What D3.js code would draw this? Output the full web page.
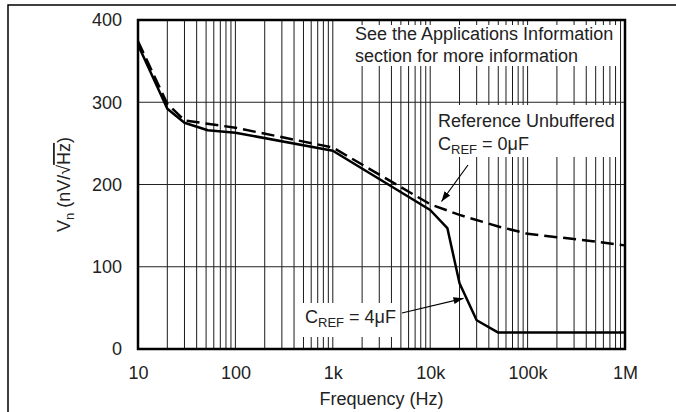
<!doctype html>
<html lang="en">
<head>
<meta charset="utf-8">
<title>Vn vs Frequency</title>
<script src="https://cdn.jsdelivr.net/npm/d3@7/dist/d3.min.js"></script>
<style>
  body { margin: 0; background: #fff; }
  svg { display: block; font-family: "Liberation Sans", Arial, Helvetica, sans-serif; }
  text { fill: #222; }
</style>
</head>
<body>
<svg id="chart" width="676" height="412"></svg>
<script>
// values
const freqTicks = [10, 100, 1e3, 1e4, 1e5, 1e6];
const freqLabels = ["10", "100", "1k", "10k", "100k", "1M"];
const vnTicks = [0, 100, 200, 300, 400];

// dashed: reference unbuffered, CREF = 0uF
const unbufFreq = [10, 20, 30, 100, 1000, 10000, 20000, 50000, 100000, 200000, 400000, 1000000];
const unbufVn   = [374, 298, 278, 269, 245, 176, 163, 149, 140, 136, 132, 126];
// solid: CREF = 4uF
const cref4Freq = [10, 20, 30, 52, 100, 1000, 10000, 15000, 20000, 30000, 50000, 1000000];
const cref4Vn   = [370, 292, 275, 266, 263, 241, 169, 147, 80, 35, 20, 20];

const svg = d3.select("#chart");
const m = {left: 138, top: 20, right: 51, bottom: 63};
const W = 676 - m.left - m.right, H = 412 - m.top - m.bottom;

// outer frame (runs off the picture at right and bottom)
svg.append("path")
  .attr("d", "M8,412 V5 H676")
  .attr("fill", "none").attr("stroke", "#000").attr("stroke-width", 1.5);

const x = d3.scaleLog().domain([10, 1e6]).range([0, W]);
const y = d3.scaleLinear().domain([0, 400]).range([H, 0]);

const g = svg.append("g").attr("transform", `translate(${m.left},${m.top})`);

// grid
g.append("g").selectAll("line").data(x.ticks())
  .enter().append("line")
    .attr("x1", d => x(d)).attr("x2", d => x(d))
    .attr("y1", 0).attr("y2", H)
    .attr("stroke", "#000").attr("stroke-width", 0.9);
g.append("g").selectAll("line").data(vnTicks.slice(1, -1))
  .enter().append("line")
    .attr("x1", 0).attr("x2", W)
    .attr("y1", d => y(d)).attr("y2", d => y(d))
    .attr("stroke", "#222").attr("stroke-width", 1);

// white boxes behind annotations
const boxes = [[214, 5, 268, 41], [297, 85, 185, 52], [162, 283, 100, 34]];
g.selectAll("rect.box").data(boxes).enter().append("rect")
  .attr("class", "box")
  .attr("x", d => d[0]).attr("y", d => d[1]).attr("width", d => d[2]).attr("height", d => d[3])
  .attr("fill", "#fff");

// curves
const line = d3.line().x(d => x(d[0])).y(d => y(d[1]));
g.append("path")
  .datum(unbufFreq.map((f, i) => [f, unbufVn[i]]))
  .attr("d", line).attr("fill", "none")
  .attr("stroke", "#000").attr("stroke-width", 2.5)
  .attr("stroke-dasharray", "13,6");
g.append("path")
  .datum(cref4Freq.map((f, i) => [f, cref4Vn[i]]))
  .attr("d", line).attr("fill", "none")
  .attr("stroke", "#000").attr("stroke-width", 2.5)
  .attr("stroke-linejoin", "round");

// plot frame
g.append("rect").attr("width", W).attr("height", H)
  .attr("fill", "none").attr("stroke", "#000").attr("stroke-width", 2.5);

// axes
const xAxis = g.append("g").attr("transform", `translate(0,${H})`)
  .call(d3.axisBottom(x).tickValues(freqTicks).tickFormat((d, i) => freqLabels[i]).tickSize(0).tickPadding(17));
const yAxis = g.append("g")
  .call(d3.axisLeft(y).tickValues(vnTicks).tickSize(0).tickPadding(16));
[xAxis, yAxis].forEach(a => {
  a.select(".domain").remove();
  a.selectAll("text").attr("font-size", 18).attr("fill", "#222").attr("font-family", null);
});

// axis titles
svg.append("text")
  .attr("x", m.left + W / 2).attr("y", 405)
  .attr("text-anchor", "middle").attr("font-size", 18)
  .text("Frequency (Hz)");

const yt = svg.append("text")
  .attr("transform", `translate(70,${m.top + H / 2}) rotate(-90)`)
  .attr("text-anchor", "middle").attr("font-size", 18);
yt.append("tspan").text("V");
yt.append("tspan").attr("font-size", 13).attr("dy", 4).text("n");
yt.append("tspan").attr("dy", -4).text(" (nV/√");
yt.append("tspan").style("text-decoration", "overline").text("Hz");
yt.append("tspan").text(")");

// annotations
const note = g.append("text").attr("font-size", 18);
note.append("tspan").attr("x", 217).attr("y", 20).text("See the Applications Information");
note.append("tspan").attr("x", 217).attr("y", 42).text("section for more information");

const ref = g.append("text").attr("font-size", 18);
ref.append("tspan").attr("x", 300).attr("y", 107).text("Reference Unbuffered");
const ref2 = g.append("text").attr("x", 300).attr("y", 130).attr("font-size", 18);
ref2.append("tspan").text("C");
ref2.append("tspan").attr("font-size", 13).attr("dy", 4).text("REF");
ref2.append("tspan").attr("dy", -4).text(" = 0μF");

const c4 = g.append("text").attr("x", 167).attr("y", 303).attr("font-size", 18);
c4.append("tspan").text("C");
c4.append("tspan").attr("font-size", 13).attr("dy", 4).text("REF");
c4.append("tspan").attr("dy", -4).text(" = 4μF");

// arrows
svg.append("defs").append("marker")
  .attr("id", "arr").attr("viewBox", "0 0 10 10")
  .attr("refX", 10).attr("refY", 5)
  .attr("markerWidth", 10).attr("markerHeight", 10)
  .attr("markerUnits", "userSpaceOnUse")
  .attr("orient", "auto")
  .append("path").attr("d", "M0,1.5 L10,5 L0,8.5 Z").attr("fill", "#000");

g.append("line")
  .attr("x1", 330).attr("y1", 145).attr("x2", 303.5).attr("y2", 181.5)
  .attr("stroke", "#000").attr("stroke-width", 1.2).attr("marker-end", "url(#arr)");
g.append("line")
  .attr("x1", 264).attr("y1", 293).attr("x2", 325.5).attr("y2", 278.3)
  .attr("stroke", "#000").attr("stroke-width", 1.2).attr("marker-end", "url(#arr)");
</script>
</body>
</html>
